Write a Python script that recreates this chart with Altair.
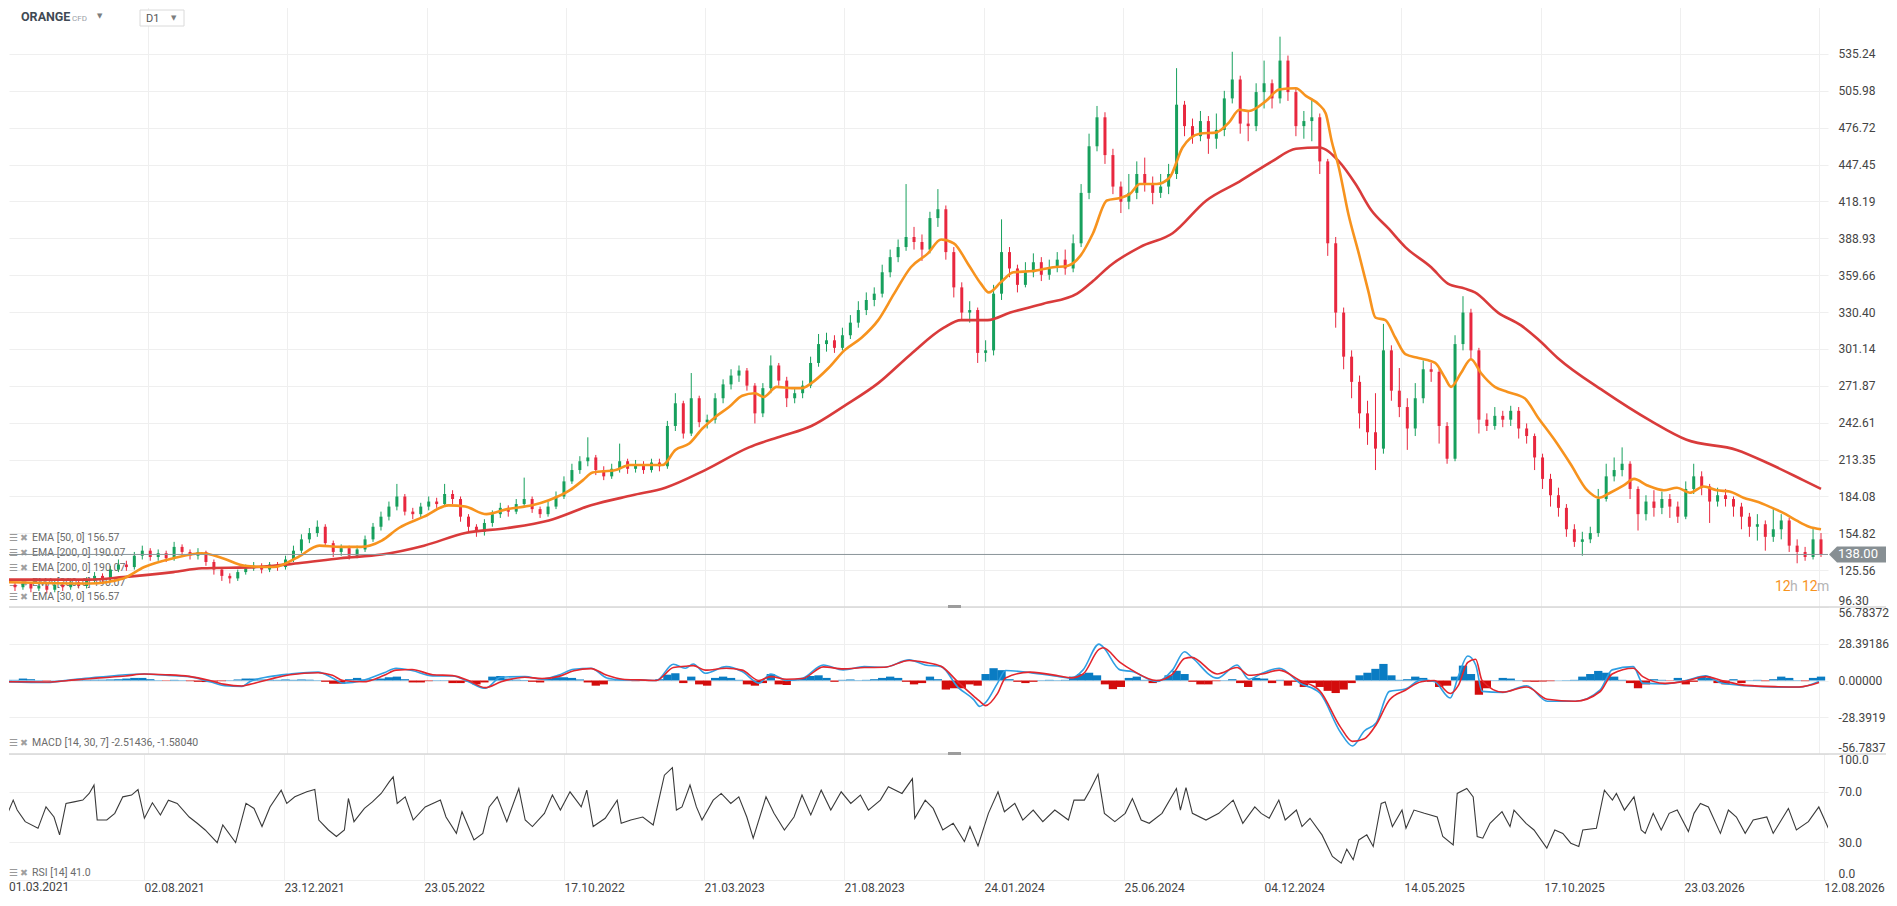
import altair as alt
import pandas as pd

# ---------------- data ----------------
date_labels = ["01.03.2021", "02.08.2021", "23.12.2021", "23.05.2022", "17.10.2022",
               "21.03.2023", "21.08.2023", "24.01.2024", "25.06.2024", "04.12.2024",
               "14.05.2025", "17.10.2025", "23.03.2026", "12.08.2026"]
price_ticks = ["96.30", "125.56", "154.82", "184.08", "213.35", "242.61", "271.87", "301.14",
               "330.40", "359.66", "388.93", "418.19", "447.45", "476.72", "505.98", "535.24"]
macd_ticks = ["-56.7837", "-28.3919", "0.00000", "28.39186", "56.78372"]
rsi_ticks = ["0.0", "30.0", "70.0", "100.0"]

first_open = 113
close = [
    114, 112, 115, 111, 113, 110, 114, 112, 116, 113,
    117, 121, 119, 126, 130, 128, 137, 141, 136, 139,
    135, 144, 140, 137, 140, 132, 126, 121, 119, 124,
    127, 129, 126, 130, 128, 134, 141, 150, 155, 160,
    147, 140, 143, 137, 142, 150, 160, 168, 176, 184,
    172, 170, 176, 180, 178, 186, 182, 168, 160, 156,
    163, 170, 175, 172, 178, 182, 174, 170, 176, 184,
    196, 205, 212, 215, 205, 200, 206, 212, 206, 209,
    205, 211, 208, 240, 258, 234, 262, 243, 245, 262,
    273, 280, 284, 272, 250, 270, 288, 276, 262, 266,
    272, 290, 305, 308, 302, 312, 322, 332, 340, 345,
    362, 374, 382, 390, 386, 380, 405, 412, 378, 350,
    330, 332, 298, 300, 345, 378, 365, 352, 362, 370,
    360, 366, 372, 365, 385, 425, 462, 485, 455, 430,
    418, 425, 440, 432, 425, 430, 440, 495, 478, 470,
    482, 468, 475, 500, 515, 480, 478, 505, 512, 500,
    530, 505, 478, 482, 485, 450, 385, 330, 295, 275,
    250, 235, 222, 300, 268, 255, 238, 262, 285, 283,
    240, 214, 305, 330, 300, 245, 240, 248, 245, 252,
    238, 232, 215, 198, 185, 175, 158, 148, 150, 155,
    182, 200, 205, 210, 190, 170, 180, 175, 182, 176,
    168, 190, 200, 192, 180, 185, 182, 176, 168, 160,
    162, 152, 158, 165, 145, 140, 136, 150, 138]
high = [
    117, 116, 118, 116, 116, 115, 117, 116, 119, 118,
    120, 124, 123, 129, 134, 133, 140, 145, 143, 142,
    141, 148, 146, 142, 143, 141, 134, 128, 123, 126,
    130, 132, 131, 132, 132, 137, 145, 154, 159, 165,
    162, 149, 146, 145, 145, 153, 163, 172, 180, 194,
    186, 175, 179, 184, 183, 194, 189, 184, 170, 162,
    166, 173, 179, 177, 182, 199, 184, 176, 180, 188,
    200, 210, 216, 231, 217, 208, 210, 226, 214, 213,
    212, 214, 214, 244, 266, 260, 282, 264, 249, 266,
    277, 285, 288, 286, 274, 274, 296, 290, 279, 270,
    276, 295, 313, 314, 312, 318, 328, 339, 346, 350,
    368, 380, 388, 432, 398, 392, 410, 428, 415, 382,
    354, 339, 334, 308, 352, 404, 382, 368, 370, 377,
    374, 372, 378, 380, 392, 432, 472, 494, 489, 460,
    434, 440, 450, 453, 438, 440, 448, 524, 498, 484,
    490, 486, 488, 506, 537, 518, 490, 512, 530, 515,
    549, 534, 508, 490, 500, 488, 452, 390, 334, 300,
    280, 260, 266, 321, 304, 286, 262, 274, 292, 290,
    286, 243, 312, 343, 333, 302, 250, 255, 252, 256,
    255, 242, 234, 218, 202, 191, 178, 162, 156, 160,
    190, 210, 215, 223, 212, 192, 185, 189, 188, 186,
    180, 196, 210, 204, 194, 191, 190, 184, 179, 171,
    170, 165, 174, 170, 167, 150, 144, 159, 155]
low = [
    110, 109, 110, 108, 109, 107, 108, 109, 110, 111,
    111, 115, 116, 117, 124, 125, 126, 134, 133, 133,
    132, 133, 137, 134, 134, 129, 122, 117, 115, 117,
    122, 125, 123, 124, 125, 126, 132, 139, 147, 152,
    144, 136, 137, 134, 135, 140, 148, 157, 165, 173,
    169, 166, 167, 173, 175, 176, 178, 164, 156, 152,
    153, 160, 167, 168, 170, 176, 171, 167, 168, 174,
    182, 194, 202, 208, 201, 197, 198, 203, 202, 203,
    202, 203, 204, 206, 236, 230, 232, 239, 238, 242,
    258, 269, 275, 268, 242, 247, 266, 272, 255, 258,
    262, 270, 287, 299, 298, 300, 309, 318, 328, 335,
    342, 358, 370, 379, 380, 371, 377, 398, 372, 342,
    324, 322, 290, 291, 296, 340, 358, 346, 350, 358,
    355, 356, 362, 360, 362, 382, 420, 458, 448, 424,
    409, 412, 420, 426, 416, 421, 424, 436, 470, 464,
    466, 456, 460, 470, 496, 472, 466, 474, 492, 492,
    496, 498, 470, 468, 466, 440, 375, 318, 285, 262,
    238, 225, 205, 218, 260, 247, 221, 232, 258, 275,
    226, 210, 212, 300, 293, 234, 236, 237, 239, 240,
    230, 226, 205, 190, 176, 168, 152, 144, 137, 147,
    152, 180, 196, 200, 182, 157, 165, 168, 170, 167,
    163, 166, 186, 185, 163, 176, 176, 168, 158, 152,
    149, 141, 148, 150, 140, 131, 133, 134, 136]

ema50_t = [0, 10.4, 14.6, 17.25, 20.9, 24.5, 27.1, 29.9, 33.5, 36.6,
           39.25, 41.9, 44.5, 47.1, 49.25, 52.4, 55.5, 57.6, 60.25, 62.9,
           66, 68.1, 70.75, 72.4, 73.6, 76.5, 78.25, 82.4, 84, 85.75,
           87.4, 89, 90.75, 92.4, 94, 95.1, 96.75, 98.6, 99.9, 101.1,
           103.25, 105.25, 107.4, 109.5, 111.5, 113.6, 115.75, 117.4, 119, 120.75,
           122.4, 123.4, 124.9, 126.5, 129, 131.5, 133.25, 134.9, 136.5, 138.25,
           139.9, 141.1, 142.4, 144.5, 146.1, 147.75, 149.9, 152, 153.6, 154.9,
           156.1, 158.25, 159.9, 162, 163.25, 164.9, 165.75, 166.5, 167.4, 168.6,
           169.9, 171.1, 172, 173.25, 174.5, 175.75, 177.4, 179.5, 180.75, 181.5,
           182.75, 184, 185.25, 187, 188.6, 190.75, 192.4, 194.5, 196.5, 198.6,
           200.1, 201.5, 203.25, 204.5, 206.1, 208.25, 209.9, 211.5, 213.25, 214.9,
           216.5, 218.25, 219.9, 221.5, 223.25, 224.9, 226.5, 228]
ema50 = [116, 115, 119, 128, 135, 139, 135, 129, 128, 136,
         145, 144, 144, 149, 159, 168, 177, 176, 170, 174,
         177, 181, 189, 197, 203, 205, 209, 209, 221, 226,
         238, 247, 255, 264, 266, 263, 271, 270, 270, 274,
         286, 300, 310, 324, 345, 366, 377, 388, 385, 369,
         353, 346, 354, 362, 363, 366, 367, 375, 393, 419,
         421, 424, 432, 432, 437, 461, 472, 473, 481, 491,
         490, 498, 507, 508, 502, 495, 488, 466, 445, 408,
         377, 347, 326, 324, 310, 297, 294, 290, 278, 271,
         282, 293, 282, 271, 267, 262, 247, 229, 210, 189,
         183, 187, 193, 198, 193, 189, 191, 187, 192, 189,
         188, 183, 180, 176, 171, 165, 160, 158]

ema200_t = [0, 10.4, 14.6, 20.9, 24.5, 31.4, 36.6, 41.9, 47.1, 52.4,
            57.6, 62.9, 68.1, 73.4, 78.6, 82.75, 87.75, 93.25, 97.4, 101.1,
            105.25, 109.5, 113.6, 117.75, 119.9, 123.25, 126.1, 130.25, 134.5, 136.5,
            138.6, 142.4, 146.5, 150.75, 154.9, 159, 162, 164.9, 167.4, 169.5,
            171.5, 173.6, 175.75, 179, 181.1, 183.25, 184.5, 187.4, 190.25, 192.4,
            194.9, 200.6, 206.6, 211.1, 217.4, 221.5, 225.75, 228]
ema200 = [118, 118, 120, 124, 127, 128, 131, 135, 138, 145,
          155, 159, 165, 177, 185, 191, 205, 223, 232, 240,
          256, 274, 297, 318, 324, 324, 330, 337, 345, 355,
          367, 382, 393, 419, 434, 450, 460, 461, 450, 432,
          411, 397, 382, 366, 353, 349, 346, 330, 320, 309,
          294, 268, 244, 229, 221, 210, 197, 190]

macd_t = [0, 5, 8.6, 11.6, 14.9, 17.25, 19.9, 22.9, 25.5, 27.4,
          29.5, 30.5, 33, 35.6, 39.1, 40.9, 42.25, 44.75, 47.4, 48.9,
          50.9, 53.5, 56, 58, 60.1, 62.1, 65.1, 67.25, 69.25, 71.25,
          73.4, 75.4, 77.4, 79.5, 81.6, 83.75, 85.25, 86.25, 87.75, 90.4,
          92.4, 94.5, 96, 98, 100, 102.6, 105.1, 107.75, 110.25, 113.4,
          115.4, 117.4, 119.5, 121.5, 122.25, 123, 124.5, 125.5, 128.6, 132.25,
          133.75, 135.25, 137.25, 137.75, 139.9, 141.4, 144.5, 146.5, 148, 148.9,
          152.1, 154.6, 156.1, 157.75, 159.9, 162.5, 165, 167.6, 169.1, 170.6,
          172.1, 173.75, 175.75, 177.75, 179.4, 181.4, 182.4, 183.6, 184.6, 185.4,
          188, 191, 193.6, 197.1, 200.25, 201.75, 204.4, 205.6, 208.4, 211,
          213.5, 215.5, 218.6, 222.6, 225.25, 227.75]
macd = [-1, -1.5, 1, 2.6, 4.5, 5, 4, 3, -1, -4,
        -4.5, -1, 3, 5, 6.5, 2, -2, 0, 6, 9.5,
        7.7, 3.6, 3.6, -1, -6, 2.6, 3, 1, 4, 8.7,
        9.5, 2, 0.5, 0.5, 0, 12.5, 9.5, 12.8, 5.6, 10.7,
        6.9, -2, 5, 0, 1.8, 12, 8.2, 10.7, 10.2, 15.9,
        12, 10.7, -5.1, -14.8, -20, -17, -2, 7.7, 6.1, 3,
        1.8, 8.2, 28.1, 26, 8.2, 6.9, -0.8, 8.2, 22.2, 18,
        1.8, 12, 1, 5.6, 9.5, -2, -9.7, -40, -50.6, -39,
        -32.7, -8.4, -6.6, 0.5, -0.8, -13.5, 3, 18.9, 12, -8.4,
        -9.2, -4.1, -16, -16, -7.2, 8.2, 10.7, -2, -2.6, 0,
        3.6, -2, -4.1, -5.1, -5.1, -0.8]
signal = [-1, -1.2, 0.5, 2, 3.5, 5, 4.5, 3.2, 0, -3,
          -4.2, -3, 1, 4.5, 6, 4, 0, -1, 4, 8,
          8.5, 4.5, 3.8, 0, -5.5, -1, 2.5, 1.5, 3, 7.5,
          9.2, 4, 1, 0.5, 0, 10, 11, 11.5, 8, 9.5,
          8, 0, 3, 1, 1.5, 10.5, 9, 10, 10.2, 15.5,
          14, 11, -1, -12, -16, -19.4, -10, 2, 6.5, 3.5,
          2, 5, 24, 25.3, 14, 8, 0, 5, 17, 17.9,
          5, 10, 4, 5, 8, 0, -8, -36, -47, -45,
          -34, -15, -7.5, -1, 0, -10, -4, 14, 16.4, 0,
          -9, -5, -14.5, -16, -8.5, 5, 9.5, 3, -2.2, -0.5,
          3, 0, -3.8, -4.8, -5, -1.6]
hist = [0.5, 0.5, 1.5, 1, 0.3, -0.3, 0.2, 0.3, 0.5, 0.4,
        0.5, 0.6, 0.6, 0.8, 1, 1.5, 2, 2, 1, 0.3,
        -0.3, 0.5, 0.3, -0.5, -1, -1.2, -0.8, -0.5, 0.3, 0.8,
        1.5, 1.5, 0.8, 0.6, 0.5, 0.8, 0.5, 0.8, 0.6, 0.3,
        -1, -2.5, -2.5, 1, 2, 0.8, 1, 1.5, 2.5, 3,
        1, -1.5, -1.5, -0.5, 0.3, 0.3, -2, -2, -0.8, -3,
        -1.5, 3, 3.5, 1.5, 0.6, 0.3, -1, -1.5, 1.5, 2.5,
        2.5, 2, 0.8, -1.5, -4, -3, 0.6, 1, 0.3, -0.5,
        -0.3, 0.3, 1, 4.5, 5.6, -2, 3, -3, -4, 2,
        3, 2, 0.5, -3, -4, -2, 5, -3, -3.5, 0.5,
        2, 3.5, 4, 2, -1, 0.5, 0.8, 0.3, 0.5, 1,
        2, 3, 2, -1, -3, -2, 3, 1, -7, -6,
        -6, -3, -4, 5, 9.5, 8, 1, -1, -2, -1,
        0.3, 0.5, 0.3, 0.5, 3, 5, 6, 4, -3, -6.7,
        -5, 2, 3, 0.5, -2, 0.5, 4, 7.5, 5, -1,
        -3, -3, -0.5, 0.3, 1, -2, -5, 2, 1.5, -2,
        0.5, -4, -1, -5, -2, -5, -8, -9.7, -7, -2,
        4, 6, 9, 12.8, 4, 0.5, 1, 3, 2, -1,
        -5, -4, 3, 11.5, 5, -11, -6, 0.3, 2, 1.5,
        0.3, -0.8, -1, -0.8, -0.5, 0.2, 0.3, 0.5, 3, 5,
        7.4, 6, 3, 0.5, -2, -6, -3, 1, 0.5, -0.3,
        2, -3, -1, 3, 2, -2, -3, 1, -2, 0.3,
        0.5, -0.5, 1, 3, 2, 0.3, -0.5, 2, 3]

rsi_t = [0, 1.4, 1.9, 2.9, 4.5, 5.5, 6.5, 7.2, 8, 9,
         10.1, 10.9, 11.5, 11.9, 13.1, 14.1, 15.1, 16.2, 17, 17.8,
         18.8, 19.8, 20.8, 21.9, 23.4, 24.4, 25.4, 26.9, 27.6, 29.2,
         30.5, 31.5, 32.5, 33.5, 34.9, 35.6, 36.6, 38.1, 39.1, 39.6,
         40.8, 41.8, 42.8, 43.3, 44, 45.3, 46.3, 47.4, 48.4, 48.9,
         49.4, 50.4, 51.4, 52.9, 54.8, 55.5, 56.8, 57.5, 59, 60.1,
         60.9, 61.9, 63.1, 64.6, 65.4, 66.3, 67.8, 68.8, 69.8, 71,
         72.4, 73.1, 73.9, 75.4, 76.9, 77.4, 78.6, 80.1, 81.4, 82.8,
         83.8, 84.3, 85, 86, 86.8, 87.5, 88.9, 89.9, 91.1, 92.1,
         93.1, 93.9, 95.5, 96.5, 97.8, 99, 100, 101.1, 102.4, 103.6,
         104.9, 106.1, 107.3, 108.3, 109.8, 110.8, 112.5, 113.8, 114.1, 115.4,
         116.4, 117.6, 118.9, 120.3, 121, 122, 123.3, 124.5, 125.3, 126.6,
         127.6, 128.9, 130.1, 131.6, 133.3, 134, 135.3, 136, 137, 137.8,
         139.1, 140.4, 141.3, 142.4, 143.4, 145, 146.8, 147.3, 148, 148.8,
         150.5, 152.1, 153.9, 155.1, 156.6, 157.4, 158.4, 159.6, 160.4, 161.8,
         162.5, 163.5, 165, 166.3, 167.4, 168.1, 168.9, 169.6, 170.6, 171.4,
         172.4, 172.9, 173.8, 175, 175.5, 176.5, 177.8, 179.4, 180.1, 181.4,
         181.9, 183.1, 183.9, 184.4, 185.1, 186, 187.5, 188.5, 189, 190.5,
         191.5, 193.1, 194.1, 195.1, 196.1, 197.1, 197.6, 199.3, 200.3, 201.3,
         201.8, 202.8, 204, 204.9, 205.4, 206.4, 207.4, 208.4, 209.4, 210.8,
         211.5, 212.3, 213.3, 214.8, 215.8, 216.8, 217.9, 218.9, 220.6, 221.4,
         223.3, 224.3, 225.8, 227.1, 228.3]
rsi = [42.4, 63.4, 55.5, 46.3, 41, 58, 50, 35.8, 60.8, 62,
       63.4, 68.7, 75.3, 47.6, 47.6, 52.9, 66, 67.4, 71.8, 49,
       61.3, 51.6, 63.4, 60.8, 50, 45, 39.7, 29.7, 43.7, 29.7,
       60.8, 56.8, 42.4, 58, 71.3, 60.8, 66, 70, 71.8, 47.6,
       39.7, 34.5, 39.7, 64.7, 46.3, 56.8, 62, 68.7, 77.9, 81.8,
       60.8, 66, 47.6, 58, 63.4, 50, 37, 54.2, 31.8, 37,
       58, 66, 46.3, 72.6, 47.6, 42.4, 52.9, 67.4, 55.5, 70,
       58, 71.3, 42.4, 49, 63.4, 45, 47.6, 50, 43.7, 83.2,
       89.2, 55.5, 58, 75.3, 58, 47.6, 63.4, 68.7, 60.8, 66,
       50, 33.2, 66, 52.9, 39.7, 50, 67.4, 51.6, 71.3, 55.5,
       70, 60.8, 67.4, 55.5, 63.4, 74, 68.7, 80.5, 49, 63.4,
       56.8, 39.7, 45, 30.5, 42.4, 27.1, 52.9, 70, 54.2, 60.8,
       47.6, 55.5, 46.3, 55.5, 47.6, 63.4, 63.4, 71.3, 84, 52.9,
       46.3, 52.9, 64.7, 47.6, 45, 52.9, 72.6, 55.5, 73.4, 52.9,
       47.6, 52.9, 63.4, 45, 58, 52.9, 49, 63.4, 47.6, 55.5,
       42.4, 49, 35.8, 18.7, 13.4, 24.5, 16.1, 31.8, 35.8, 26.6,
       60.8, 62, 42.4, 55.5, 41, 55.5, 52.9, 50, 34.5, 27.9,
       68.7, 72.6, 66, 34.5, 33.2, 45, 54.2, 42.4, 55.5, 45,
       39.7, 25.3, 39.7, 37, 29.2, 26.6, 39.7, 41, 71.3, 63.4,
       68.7, 55.5, 66, 39.7, 37, 52.9, 39.7, 52.9, 55.5, 38.4,
       52.9, 60.8, 58, 37, 55.5, 50, 37, 47.6, 50, 37,
       56.8, 39.7, 46.3, 58, 41]

last_price = 138.00
ema_legend = ["EMA [50, 0] 156.57", "EMA [200, 0] 190.07", "EMA [200, 0] 190.07",
              "EMA [200, 0] 190.07", "EMA [30, 0] 156.57"]
macd_legend = "MACD [14, 30, 7] -2.51436, -1.58040"
rsi_legend = "RSI [14] 41.0"

# ---------------- styling / layout ----------------
FONT = "Roboto"
GREEN = "#17a05d"
RED_C = "#e8283f"
ORANGE = "#f7931e"
EMA_RED = "#d93b3b"
GRID = "#efefef"
LABEL = "#444444"
OX = 8                      # page x of the plot's left edge
W = 1819
H_MAIN, H_MACD, H_RSI = 607, 147, 126
T0, T1 = 0.875, 228.25      # visible time window, in bars

xs = alt.Scale(domain=[T0, T1], nice=False, zero=False)
grid_all = [0.25 + 17.5 * k for k in range(len(date_labels))]
grid_t = [g for g in grid_all if g >= T0]
date_expr = "[" + ",".join("'%s'" % d for d in date_labels) + "][round((datum.value - 0.25) / 17.5)]"


def xenc(labels=False):
    if labels:
        ax = alt.Axis(values=grid_t, labelExpr=date_expr, labelAlign="left", labelFlush=False,
                      labelOverlap=False, labelBound=False, ticks=False, domain=False, grid=True,
                      gridColor=GRID, labelPadding=2, title=None, labelFont=FONT,
                      labelFontSize=12, labelColor=LABEL)
    else:
        ax = alt.Axis(values=grid_t, labels=False, ticks=False, domain=False, grid=True,
                      gridColor=GRID, title=None)
    return alt.X("t:Q", scale=xs, axis=ax)


one = pd.DataFrame({"a": [0]})


def label(txt, x, y, size=10.5, color="#6b6b6b", weight="normal", font=FONT, baseline="middle"):
    return alt.Chart(one).mark_text(align="left", baseline=baseline, fontSize=size, color=color,
                                    fontWeight=weight, font=font).encode(
        x=alt.value(x - OX), y=alt.value(y), text=alt.value(txt))


def legend_row(txt, y):
    return [label("\u2630", 8, y, size=10, color="#9a9a9a", font="DejaVu Sans"),
            label("\u2716", 19, y, size=9.5, color="#a0a0a0", font="DejaVu Sans"),
            label(txt, 31, y)]


# ---------------- main panel ----------------
opens = [first_open] + close[:-1]
candles = pd.DataFrame({"t": list(range(len(close))), "o": opens, "c": close, "h": high, "l": low})
candles["dir"] = ["up" if c >= o else "down" for o, c in zip(opens, close)]

y_main = alt.Scale(domain=[96.30, 578.10], nice=False, zero=False)
ax_main = alt.Axis(orient="right", values=[float(v) for v in price_ticks], format=".2f", grid=True,
                   gridColor=GRID, ticks=False, domain=False, labelPadding=10, labelFlush=True,
                   title=None, labelFont=FONT, labelFontSize=12, labelColor=LABEL)


def ymain(f):
    return alt.Y(f, type="quantitative", scale=y_main, axis=ax_main)


col = alt.Color("dir:N", scale=alt.Scale(domain=["up", "down"], range=[GREEN, RED_C]), legend=None)

wicks = alt.Chart(candles).mark_rule(clip=True, strokeWidth=1).encode(
    x=xenc(), y=ymain("l"), y2="h:Q", color=col)
bodies = alt.Chart(candles).mark_bar(clip=True, size=3).encode(
    x=xenc(), y=ymain("o"), y2="c:Q", color=col)

e50 = pd.DataFrame({"t": ema50_t, "v": ema50})
e200 = pd.DataFrame({"t": ema200_t, "v": ema200})
line50 = alt.Chart(e50).mark_line(clip=True, color=ORANGE, strokeWidth=2.6, interpolate="monotone").encode(
    x=xenc(), y=ymain("v"))
line200 = alt.Chart(e200).mark_line(clip=True, color=EMA_RED, strokeWidth=2.6, interpolate="monotone").encode(
    x=xenc(), y=ymain("v"))

lp = pd.DataFrame({"v": [last_price]})
price_line = alt.Chart(lp).mark_rule(color="#8a9599", strokeWidth=1).encode(
    y=ymain("v"), x=alt.value(0), x2=alt.value(W))
BADGE = "M -1 0 L -0.72 -0.28 L 1 -0.28 L 1 0.28 L -0.72 0.28 Z"
badge = alt.Chart(lp).mark_point(shape=BADGE, size=57 * 57, filled=True, color="#878f93",
                                 opacity=1, strokeWidth=0).encode(x=alt.value(1856.5 - OX), y=ymain("v"))
badge_txt = alt.Chart(lp).mark_text(align="left", baseline="middle", color="white", font=FONT,
                                    fontSize=13).encode(
    x=alt.value(1837 - OX), y=ymain("v"), text=alt.Text("v:Q", format=".2f"))

timer = [label("12", 1774, 587, size=14, color=ORANGE),
         label("h", 1789, 587, size=14, color="#b5b5b5"),
         label("12", 1801, 587, size=14, color=ORANGE),
         label("m", 1816, 587, size=14, color="#b5b5b5")]

header = [label("ORANGE", 20, 17, size=12.5, color="#3f4a54", weight="bold"),
          label("CFD", 71, 19, size=8, color="#9aa0a6"),
          label("\u25BC", 96, 16, size=7, color="#7d7d7d", font="DejaVu Sans"),
          alt.Chart(one).mark_rect(fill="white", stroke="#dadada", strokeWidth=1).encode(
              x=alt.value(139 - OX), x2=alt.value(183 - OX), y=alt.value(10), y2=alt.value(26)),
          label("D1", 145, 19, size=11, color="#555555"),
          label("\u25BC", 170, 18, size=7, color="#7d7d7d", font="DejaVu Sans")]

legend_layers = []
for txt, yy in zip(ema_legend, [538, 553, 568, 583, 597]):
    legend_layers += legend_row(txt, yy)

main = alt.layer(wicks, *legend_layers, bodies, line200, line50, price_line, badge, badge_txt,
                 *timer, *header).properties(width=W, height=H_MAIN)

# ---------------- MACD panel ----------------
y_macd = alt.Scale(domain=[-56.78372, 56.78372], nice=False, zero=False)
macd_vals = [-56.78372, -28.39186, 0.0, 28.39186, 56.78372]
macd_expr = "[" + ",".join("'%s'" % s for s in macd_ticks) + "][round(datum.value / 28.39186) + 2]"
ax_macd = alt.Axis(orient="right", values=macd_vals, labelExpr=macd_expr, grid=True, gridColor=GRID,
                   ticks=False, domain=False, labelPadding=10, labelFlush=True, title=None,
                   labelFont=FONT, labelFontSize=12, labelColor=LABEL)

hdf = pd.DataFrame({"t": list(range(len(hist))), "hv": hist, "zero": [0.0] * len(hist)})
hdf["sign"] = ["pos" if v >= 0 else "neg" for v in hist]
mdf = pd.DataFrame({"t": macd_t, "m": macd, "s": signal})

hbars = alt.Chart(hdf).mark_bar(clip=True, size=8.3).encode(
    x=xenc(), y=alt.Y("hv:Q", scale=y_macd, axis=ax_macd), y2="zero:Q",
    color=alt.Color("sign:N", scale=alt.Scale(domain=["pos", "neg"], range=["#0a7cc3", "#d30c0c"]),
                    legend=None))
mline = alt.Chart(mdf).mark_line(clip=True, color="#2f9fe3", strokeWidth=1.6, interpolate="monotone").encode(
    x=xenc(), y=alt.Y("m:Q", scale=y_macd, axis=ax_macd))
sline = alt.Chart(mdf).mark_line(clip=True, color="#e3262d", strokeWidth=1.6, interpolate="monotone").encode(
    x=xenc(), y=alt.Y("s:Q", scale=y_macd, axis=ax_macd))


def divider():
    return [alt.Chart(one).mark_rule(color="#d7d7d7", strokeWidth=1.5).encode(
                x=alt.value(0), x2=alt.value(1885 - OX), y=alt.value(0)),
            alt.Chart(one).mark_rect(color="#9c9c9c").encode(
                x=alt.value(947 - OX), x2=alt.value(960 - OX), y=alt.value(-2), y2=alt.value(1))]


macd_panel = alt.layer(hbars, mline, sline, *legend_row(macd_legend, 136), *divider()).properties(
    width=W, height=H_MACD)

# ---------------- RSI panel ----------------
y_rsi = alt.Scale(domain=[0, 100], nice=False, zero=False)
ax_rsi = alt.Axis(orient="right", values=[float(v) for v in rsi_ticks], format=".1f", grid=True,
                  gridColor=GRID, ticks=False, domain=False, labelPadding=10, labelFlush=True,
                  title=None, labelFont=FONT, labelFontSize=12, labelColor=LABEL)
rdf = pd.DataFrame({"t": rsi_t, "r": rsi})
rline = alt.Chart(rdf).mark_line(clip=True, color="#3a3a3a", strokeWidth=1.1).encode(
    x=xenc(labels=True), y=alt.Y("r:Q", scale=y_rsi, axis=ax_rsi))
# the first date label sits on the plot's left edge, outside the visible time window
first_date = label(date_labels[0], OX, H_RSI + 2, size=12, color=LABEL, baseline="top")
rsi_panel = alt.layer(rline, *legend_row(rsi_legend, 119), *divider(), first_date).properties(
    width=W, height=H_RSI)

base = alt.vconcat(main, macd_panel, rsi_panel, spacing=0, bounds="flush").resolve_scale(
    color="independent")

final = None
for pad in ({"left": 0, "top": -8, "right": 0, "bottom": 0}, 0):
    try:
        cand = base.properties(padding=pad).configure_view(stroke=None)
        cand.to_dict()
        final = cand
        break
    except Exception:
        continue

final.save("out.html", embed_options={"renderer": "svg", "actions": False})
